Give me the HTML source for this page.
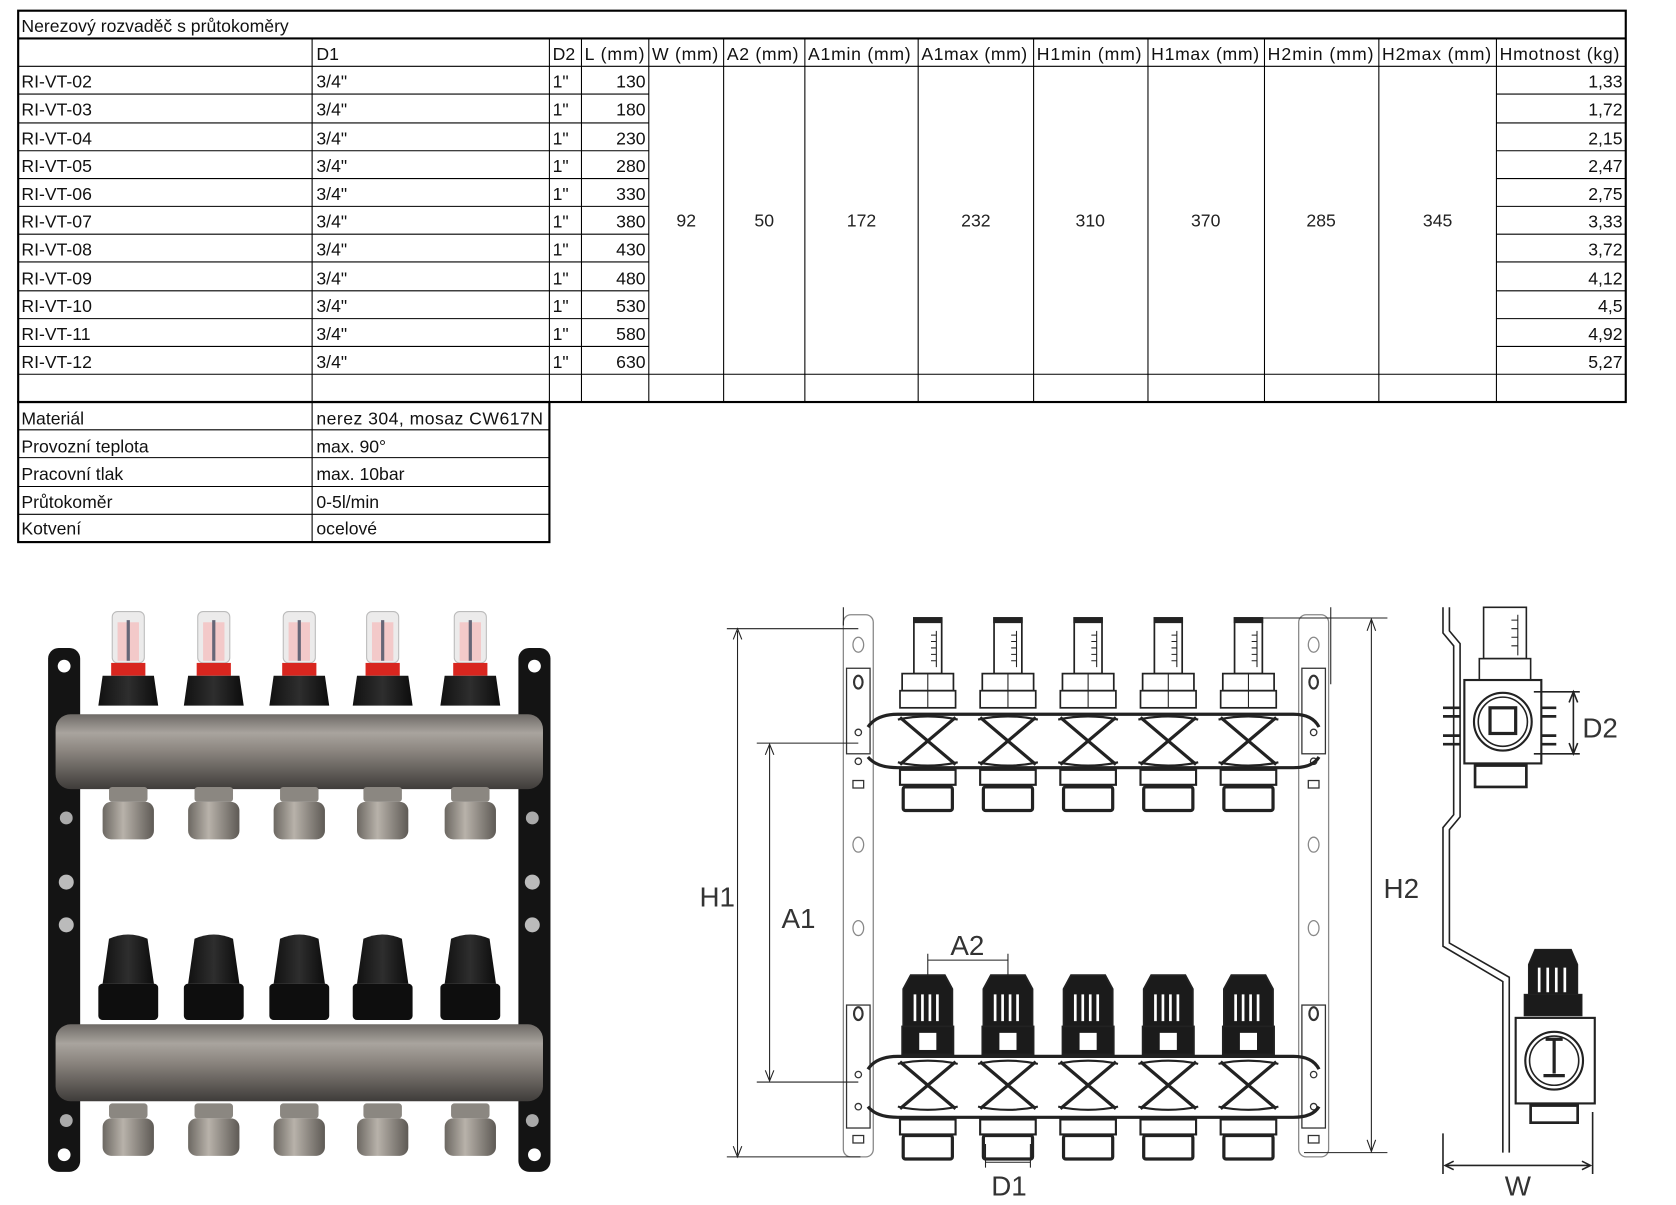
<!DOCTYPE html>
<html><head><meta charset="utf-8"><style>
html,body{margin:0;padding:0;background:#fff;}
svg{display:block;}
</style></head><body>
<svg width="1676" height="1205" viewBox="0 0 1568 1127" preserveAspectRatio="none" xmlns="http://www.w3.org/2000/svg" font-family="Liberation Sans, sans-serif">
<defs>
<linearGradient id="steel" x1="0" y1="0" x2="0" y2="1">
<stop offset="0" stop-color="#6e6a66"/><stop offset="0.25" stop-color="#a9a49e"/><stop offset="0.5" stop-color="#8a847e"/><stop offset="0.8" stop-color="#5d5955"/><stop offset="1" stop-color="#3f3c3a"/></linearGradient>
<linearGradient id="fit" x1="0" y1="0" x2="1" y2="0">
<stop offset="0" stop-color="#6c6862"/><stop offset="0.4" stop-color="#b8b2aa"/><stop offset="1" stop-color="#5e5a55"/></linearGradient>
<linearGradient id="cap" x1="0" y1="0" x2="1" y2="0">
<stop offset="0" stop-color="#111"/><stop offset="0.5" stop-color="#2e2e2e"/><stop offset="1" stop-color="#0c0c0c"/></linearGradient>
<g id="pflow">
<rect x="-15" y="572" width="30" height="48" rx="5" fill="#ecebeb" stroke="#bbb"/>
<rect x="-10" y="582" width="20" height="36" fill="#f3c9c9"/>
<line x1="0" y1="580" x2="0" y2="618" stroke="#667" stroke-width="3"/>
<rect x="-16" y="620" width="32" height="12" fill="#d8261f"/>
<path d="M-24 632 H24 L28 660 H-28 Z" fill="url(#cap)"/>
</g>
<g id="pfit">
<rect x="-18" y="736" width="36" height="14" rx="3" fill="#8b8781"/>
<rect x="-24" y="750" width="48" height="35" rx="8" fill="url(#fit)"/>
</g>
<g id="pknob">
<path d="M-18 878 Q0 870 18 878 L24 920 H-24 Z" fill="url(#cap)"/>
<rect x="-28" y="920" width="56" height="34" rx="4" fill="#0e0e0e"/>
</g>
<g id="xs" fill="none" stroke="#222">
<path d="M-26 0 L26 44 M26 0 L-26 44" stroke-width="3"/>
<path d="M-28 2 Q0 -4 28 2 M-28 42 Q0 48 28 42" stroke-width="2"/>
</g>
<g id="dtop" fill="#fff" stroke="#222" stroke-width="1.6">
<rect x="-13" y="578" width="26" height="52"/>
<rect x="-13" y="578" width="26" height="4" fill="#222"/>
<path d="M8 590 v34 M3 594h5 M3 600h5 M3 606h5 M3 612h5 M3 618h5" stroke-width="1"/>
<rect x="-24" y="630" width="48" height="16"/>
<rect x="-26" y="646" width="52" height="16"/>
<line x1="0" y1="630" x2="0" y2="662" stroke-width="1"/>
<use href="#xs" y="671"/>
<rect x="-26" y="720" width="52" height="14" stroke-width="2"/>
<rect x="-23" y="736" width="46" height="22" rx="2" stroke-width="3"/>
</g>
<g id="dbot" fill="#fff" stroke="#222" stroke-width="1.6">
<path d="M-16 912 H16 L23 925 V960 H-23 V925 Z" fill="#1b1b1b"/>
<path d="M-12 930 V955 M-5 930 V955 M2 930 V955 M9 930 V955" stroke="#fff" stroke-width="2.5"/>
<rect x="-24" y="960" width="48" height="26" fill="#1b1b1b"/>
<rect x="-8" y="966" width="16" height="16" fill="#fff" stroke="none"/>
<use href="#xs" y="993"/>
<rect x="-26" y="1047" width="52" height="14" stroke-width="2"/>
<rect x="-23" y="1062" width="46" height="22" rx="2" stroke-width="3"/>
</g>
<g id="rail" fill="#fff" stroke="#888" stroke-width="1.2">
<rect x="0" y="575" width="28" height="507" rx="7"/>
<ellipse cx="14" cy="603" rx="5" ry="7"/>
<rect x="3" y="625" width="22" height="80" stroke="#333"/>
<ellipse cx="14" cy="638" rx="4" ry="6" stroke="#333" stroke-width="2"/>
<circle cx="14" cy="685" r="3" stroke="#333"/>
<circle cx="14" cy="712" r="3" stroke="#333"/>
<rect x="9" y="730" width="10" height="7" stroke="#333"/>
<ellipse cx="14" cy="790" rx="5" ry="7"/>
<ellipse cx="14" cy="868" rx="5" ry="7"/>
<rect x="3" y="940" width="22" height="115" stroke="#333"/>
<ellipse cx="14" cy="948" rx="4" ry="6" stroke="#333" stroke-width="2"/>
<circle cx="14" cy="1005" r="3" stroke="#333"/>
<circle cx="14" cy="1035" r="3" stroke="#333"/>
<rect x="9" y="1062" width="10" height="7" stroke="#333"/>
</g>
</defs>

<g stroke="#000" stroke-width="1" fill="none">
<rect x="17" y="10" width="1504" height="366" stroke-width="2"/>
<line x1="17" y1="36" x2="1521" y2="36" stroke-width="2"/>
<line x1="17" y1="62" x2="1521" y2="62"/>
<path d="M17 88H607M17 115H607M17 141H607M17 167H607M17 193H607M17 219H607M17 245H607M17 272H607M17 298H607M17 324H607M17 350H1521"/>
<path d="M1400 88H1521M1400 115H1521M1400 141H1521M1400 167H1521M1400 193H1521M1400 219H1521M1400 245H1521M1400 272H1521M1400 298H1521M1400 324H1521"/>
<path d="M292 36V376M514 36V376M544 36V376M607 36V376M677 36V376M753 36V376M859 36V376M967 36V376M1074 36V376M1183 36V376M1290 36V376M1400 36V376"/>
<rect x="17" y="376" width="497" height="131" stroke-width="2"/>
<path d="M17 402H514M17 428H514M17 455H514M17 481H514M292 376V507"/>
</g>
<g font-size="16.5" fill="#111">
<text x="20" y="30">Nerezový rozvaděč s průtokoměry</text>
<text x="296" y="56">D1</text><text x="517" y="56">D2</text><text x="547" y="56" textLength="56">L (mm)</text>
<text x="610" y="56" textLength="62">W (mm)</text><text x="680" y="56" textLength="67">A2 (mm)</text><text x="756" y="56" textLength="96">A1min (mm)</text>
<text x="862" y="56" textLength="99">A1max (mm)</text><text x="970" y="56" textLength="98">H1min (mm)</text><text x="1077" y="56" textLength="101">H1max (mm)</text>
<text x="1186" y="56" textLength="99">H2min (mm)</text><text x="1293" y="56" textLength="102">H2max (mm)</text><text x="1403" y="56" textLength="112">Hmotnost (kg)</text>
</g>
<g font-size="16.5" fill="#111">
<text x="20" y="82">RI-VT-02</text><text x="20" y="108">RI-VT-03</text><text x="20" y="135">RI-VT-04</text><text x="20" y="161">RI-VT-05</text>
<text x="20" y="187">RI-VT-06</text><text x="20" y="213">RI-VT-07</text><text x="20" y="239">RI-VT-08</text><text x="20" y="266">RI-VT-09</text>
<text x="20" y="292">RI-VT-10</text><text x="20" y="318">RI-VT-11</text><text x="20" y="344">RI-VT-12</text>
</g>
<g font-size="16.5" fill="#111">
<text x="296" y="82">3/4"</text><text x="296" y="108">3/4"</text><text x="296" y="135">3/4"</text><text x="296" y="161">3/4"</text>
<text x="296" y="187">3/4"</text><text x="296" y="213">3/4"</text><text x="296" y="239">3/4"</text><text x="296" y="266">3/4"</text>
<text x="296" y="292">3/4"</text><text x="296" y="318">3/4"</text><text x="296" y="344">3/4"</text>
<text x="517" y="82">1"</text><text x="517" y="108">1"</text><text x="517" y="135">1"</text><text x="517" y="161">1"</text>
<text x="517" y="187">1"</text><text x="517" y="213">1"</text><text x="517" y="239">1"</text><text x="517" y="266">1"</text>
<text x="517" y="292">1"</text><text x="517" y="318">1"</text><text x="517" y="344">1"</text>
</g>
<g font-size="16.5" fill="#111" text-anchor="end">
<text x="604" y="82">130</text><text x="604" y="108">180</text><text x="604" y="135">230</text><text x="604" y="161">280</text>
<text x="604" y="187">330</text><text x="604" y="213">380</text><text x="604" y="239">430</text><text x="604" y="266">480</text>
<text x="604" y="292">530</text><text x="604" y="318">580</text><text x="604" y="344">630</text>
<text x="1518" y="82">1,33</text><text x="1518" y="108">1,72</text><text x="1518" y="135">2,15</text><text x="1518" y="161">2,47</text>
<text x="1518" y="187">2,75</text><text x="1518" y="213">3,33</text><text x="1518" y="239">3,72</text><text x="1518" y="266">4,12</text>
<text x="1518" y="292">4,5</text><text x="1518" y="318">4,92</text><text x="1518" y="344">5,27</text>
</g>
<g font-size="16.5" fill="#222" text-anchor="middle">
<text x="642" y="212">92</text><text x="715" y="212">50</text><text x="806" y="212">172</text><text x="913" y="212">232</text>
<text x="1020" y="212">310</text><text x="1128" y="212">370</text><text x="1236" y="212">285</text><text x="1345" y="212">345</text>
</g>
<g font-size="16.5" fill="#111">
<text x="20" y="397">Materiál</text><text x="296" y="397" textLength="212">nerez 304, mosaz CW617N</text>
<text x="20" y="423">Provozní teplota</text><text x="296" y="423">max. 90°</text>
<text x="20" y="449">Pracovní tlak</text><text x="296" y="449">max. 10bar</text>
<text x="20" y="475">Průtokoměr</text><text x="296" y="475">0-5l/min</text>
<text x="20" y="500">Kotvení</text><text x="296" y="500">ocelové</text>
</g>

<g>
<rect x="45" y="606" width="30" height="490" rx="10" fill="#141414"/>
<rect x="485" y="606" width="30" height="490" rx="10" fill="#141414"/>
<circle cx="60" cy="623" r="6" fill="#fff"/><circle cx="60" cy="1080" r="6" fill="#fff"/>
<circle cx="500" cy="623" r="6" fill="#fff"/><circle cx="500" cy="1080" r="6" fill="#fff"/>
<circle cx="62" cy="765" r="6" fill="#aaa"/><circle cx="62" cy="825" r="7" fill="#bbb"/><circle cx="62" cy="865" r="7" fill="#bbb"/><circle cx="62" cy="1048" r="6" fill="#aaa"/>
<circle cx="498" cy="765" r="6" fill="#aaa"/><circle cx="498" cy="825" r="7" fill="#bbb"/><circle cx="498" cy="865" r="7" fill="#bbb"/><circle cx="498" cy="1048" r="6" fill="#aaa"/>
<use href="#pflow" x="120"/><use href="#pflow" x="200"/><use href="#pflow" x="280"/><use href="#pflow" x="358"/><use href="#pflow" x="440"/>
<rect x="52" y="668" width="456" height="70" rx="14" fill="url(#steel)"/>
<use href="#pfit" x="120"/><use href="#pfit" x="200"/><use href="#pfit" x="280"/><use href="#pfit" x="358"/><use href="#pfit" x="440"/>
<use href="#pknob" x="120"/><use href="#pknob" x="200"/><use href="#pknob" x="280"/><use href="#pknob" x="358"/><use href="#pknob" x="440"/>
<rect x="52" y="958" width="456" height="72" rx="14" fill="url(#steel)"/>
<g transform="translate(0,296)"><use href="#pfit" x="120"/><use href="#pfit" x="200"/><use href="#pfit" x="280"/><use href="#pfit" x="358"/><use href="#pfit" x="440"/></g>
</g>

<use href="#rail" x="789"/>
<use href="#rail" x="1215"/>
<g fill="none" stroke="#222" stroke-width="3">
<path d="M812 680 Q820 668 840 668 H1210 Q1228 668 1234 680"/>
<path d="M812 708 Q820 718 840 718 H1210 Q1228 718 1234 708"/>
<path d="M812 1000 Q820 988 840 988 H1210 Q1228 988 1234 1000"/>
<path d="M812 1035 Q820 1045 840 1045 H1210 Q1228 1045 1234 1035"/>
</g>
<use href="#dtop" x="868"/><use href="#dtop" x="943"/><use href="#dtop" x="1018"/><use href="#dtop" x="1093"/><use href="#dtop" x="1168"/>
<use href="#dbot" x="868"/><use href="#dbot" x="943"/><use href="#dbot" x="1018"/><use href="#dbot" x="1093"/><use href="#dbot" x="1168"/>
<g stroke="#222" stroke-width="1" fill="none">
<path d="M680 588H803M680 1082H805M690 590V1080"/>
<path d="M686 598L690 588L694 598M686 1072L690 1082L694 1072"/>
<path d="M708 695H803M708 1012H803M720 697V1010"/>
<path d="M716 706L720 696L724 706M716 1001L720 1011L724 1001"/>
<path d="M1160 578H1298M1220 1078H1298M1283 580V1076"/>
<path d="M1279 590L1283 579L1287 590M1279 1066L1283 1077L1287 1066"/>
<path d="M789 568V585M1245 568V640"/>
<path d="M868 892V912M943 892V912M868 898H943"/>
<path d="M922 1070V1092M964 1070V1092M922 1087H964"/>
</g>
<g font-size="26" fill="#333" text-anchor="middle">
<text x="671" y="848">H1</text><text x="747" y="868">A1</text><text x="1311" y="840">H2</text>
<text x="905" y="893">A2</text><text x="944" y="1118">D1</text>
</g>

<g fill="none" stroke="#222" stroke-width="1.5">
<path d="M1350 568V592L1360 604V762L1350 774V885L1406 918V1078"/>
<path d="M1356 568V590L1366 602V764L1356 776V882L1412 914V1078"/>
<rect x="1388" y="568" width="40" height="48" fill="#fff"/>
<path d="M1420 575v38M1414 580h6M1414 588h6M1414 596h6M1414 604h6" stroke-width="1"/>
<rect x="1384" y="616" width="48" height="20" fill="#fff"/>
<rect x="1370" y="636" width="72" height="78" fill="#fff" stroke-width="2"/>
<circle cx="1406" cy="675" r="27" stroke-width="2"/>
<circle cx="1406" cy="675" r="23"/>
<rect x="1394" y="662" width="24" height="24" stroke-width="3"/>
<rect x="1380" y="716" width="48" height="20" stroke-width="2.5"/>
<path d="M1350 662h16M1350 670h16M1350 688h16M1350 696h16M1442 662h14M1442 670h14M1442 688h14M1442 696h14" stroke-width="2.5"/>
<path d="M1435 647H1478M1435 705H1478M1472 649V703"/>
<path d="M1468 657L1472 647L1476 657M1468 695L1472 705L1476 695"/>
</g>
<g fill="#1b1b1b" stroke="#222">
<path d="M1436 888H1470L1476 902V930H1430V902Z"/>
<rect x="1426" y="930" width="54" height="20"/>
</g>
<g fill="none" stroke="#222" stroke-width="1.5">
<path d="M1440 905V928M1448 905V928M1456 905V928M1464 905V928" stroke="#fff" stroke-width="2.5"/>
<rect x="1418" y="952" width="74" height="80" fill="#fff" stroke-width="2"/>
<circle cx="1454" cy="992" r="27" stroke-width="2"/>
<circle cx="1454" cy="992" r="23"/>
<path d="M1446 972h16M1454 972v32M1444 1006h20" stroke-width="3"/>
<rect x="1432" y="1034" width="44" height="16" stroke-width="2.5"/>
<path d="M1350 1060V1098M1490 1040V1098M1352 1090H1488"/>
<path d="M1360 1086L1352 1090L1360 1094M1480 1086L1488 1090L1480 1094"/>
</g>
<g font-size="26" fill="#333" text-anchor="middle">
<text x="1497" y="690">D2</text><text x="1420" y="1118">W</text>
</g>
</svg>
</body></html>
